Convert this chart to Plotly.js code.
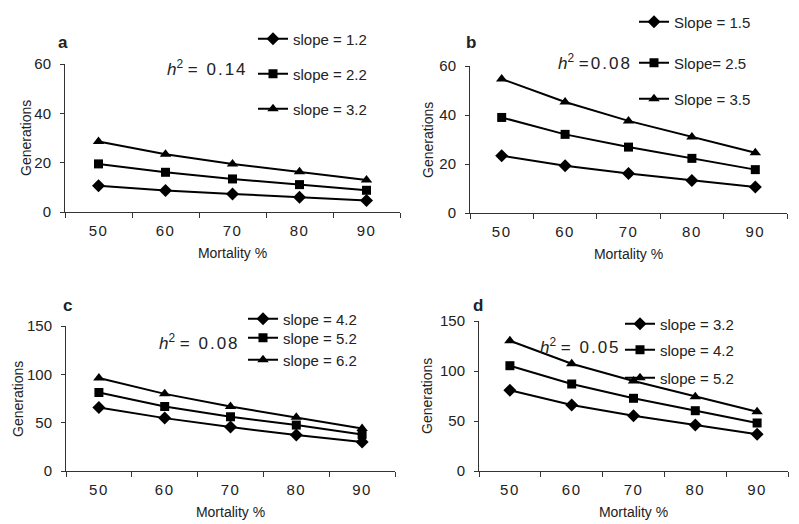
<!DOCTYPE html>
<html>
<head>
<meta charset="utf-8">
<script src="https://cdn.plot.ly/plotly-3.0.1.min.js"></script>
<style>
  html, body { margin: 0; padding: 0; background: #fff; }
  #chart { width: 799px; height: 524px; }
  /* x tick labels in the source are slightly spaced out */
  .xtick text, .x2tick text, .x3tick text, .x4tick text { letter-spacing: 1.5px; }
</style>
</head>
<body>
<div id="chart"></div>
<script>
// Generations to resistance vs. mortality, four panels (a-d)
const mortality = [50, 60, 70, 80, 90];

// panel a (h2 = 0.14)
const aNames = ["slope = 1.2", "slope = 2.2", "slope = 3.2"];
const aSlope1 = [10.6, 8.7, 7.3, 6.0, 4.7];
const aSlope2 = [19.5, 16.1, 13.4, 11.1, 8.8];
const aSlope3 = [28.6, 23.4, 19.5, 16.3, 13.0];

// panel b (h2 = 0.08)
const bNames = ["Slope = 1.5", "Slope= 2.5", "Slope = 3.5"];
const bSlope1 = [23.4, 19.3, 16.1, 13.3, 10.6];
const bSlope2 = [39.0, 32.1, 26.9, 22.3, 17.7];
const bSlope3 = [54.7, 45.3, 37.6, 31.0, 24.6];

// panel c (h2 = 0.08)
const cNames = ["slope = 4.2", "slope = 5.2", "slope = 6.2"];
const cSlope1 = [65.7, 54.7, 45.4, 37.2, 29.9];
const cSlope2 = [81.2, 66.7, 56.1, 47.5, 37.8];
const cSlope3 = [96.3, 79.8, 66.7, 55.7, 44.0];

// panel d (h2 = 0.05)
const dNames = ["slope = 3.2", "slope = 4.2", "slope = 5.2"];
const dSlope1 = [80.7, 66.0, 55.3, 46.0, 36.7];
const dSlope2 = [105.3, 87.0, 72.7, 60.3, 48.0];
const dSlope3 = [130.3, 107.3, 90.0, 74.3, 59.3];

const symbols = ["diamond", "square", "triangle-up"];
const W = 799, H = 524;
const px = v => v / W;
const py = v => 1 - v / H;

const FONT = "Liberation Sans, Arial, sans-serif";
const INK = "#222";

// one legend per trace so each entry can sit where the source puts it
let legendCount = 0;
const legends = {};

function panel(names, series, ax, legendX, legendYs) {
  return series.map((ys, i) => {
    legendCount++;
    const id = legendCount === 1 ? "legend" : "legend" + legendCount;
    legends[id] = {
      x: px(legendX), y: py(legendYs[i]), xanchor: "left", yanchor: "middle",
      bgcolor: "rgba(0,0,0,0)",
      font: { family: FONT, size: 15, color: INK },
      itemwidth: 30
    };
    return {
      x: mortality,
      y: ys,
      type: "scatter",
      mode: "lines+markers",
      name: names[i],
      xaxis: "x" + ax,
      yaxis: "y" + ax,
      legend: id,
      line: { color: "#000", width: 2 },
      marker: { symbol: symbols[i], size: i === 1 ? 9 : 10, color: "#000" },
      cliponaxis: false
    };
  });
}

const traces = [
  ...panel(aNames, [aSlope1, aSlope2, aSlope3], "", 253, [39, 74, 109]),
  ...panel(bNames, [bSlope1, bSlope2, bSlope3], "2", 634, [22, 63, 99]),
  ...panel(cNames, [cSlope1, cSlope2, cSlope3], "3", 243, [319, 338, 360]),
  ...panel(dNames, [dSlope1, dSlope2, dSlope3], "4", 620, [324, 350, 378])
];

function xAxis(x0, x1, anchor) {
  return {
    domain: [px(x0), px(x1)],
    anchor: anchor,
    type: "category",
    range: [-0.5, 4.5],
    tickson: "boundaries",
    ticks: "outside",
    ticklen: 5,
    tickcolor: "#333",
    ticklabelstandoff: 5,
    showline: true,
    linecolor: "#333",
    linewidth: 1,
    showgrid: false,
    zeroline: false,
    tickfont: { family: FONT, size: 15, color: INK },
    title: { text: "Mortality %", font: { family: FONT, size: 14, color: INK }, standoff: 10 },
    fixedrange: true
  };
}

function yAxis(y0, y1, anchor, ymax, dtick) {
  return {
    domain: [py(y1), py(y0)],
    anchor: anchor,
    range: [0, ymax],
    dtick: dtick,
    ticks: "outside",
    ticklen: 4,
    tickcolor: "#333",
    ticklabelstandoff: 6,
    showline: true,
    linecolor: "#333",
    linewidth: 1,
    showgrid: false,
    zeroline: false,
    tickfont: { family: FONT, size: 15, color: INK },
    fixedrange: true
  };
}

function label(x, y, text, size, extra) {
  return Object.assign({
    xref: "paper", yref: "paper",
    x: px(x), y: py(y),
    xanchor: "center", yanchor: "middle",
    text: text,
    showarrow: false,
    font: { family: FONT, size: size, color: INK }
  }, extra || {});
}

const h2 = v => "<i>h</i><sup>2</sup> <span style=\"letter-spacing:2px\">" + v + "</span>";

const layout = Object.assign({
  width: W,
  height: H,
  margin: { l: 0, r: 0, t: 0, b: 0 },
  paper_bgcolor: "#fff",
  plot_bgcolor: "#fff",
  showlegend: true,
  xaxis: xAxis(65, 400, "y"),
  yaxis: yAxis(64, 212, "x", 60, 20),
  xaxis2: xAxis(470, 787, "y2"),
  yaxis2: yAxis(66, 213, "x2", 60, 20),
  xaxis3: xAxis(66, 395, "y3"),
  yaxis3: yAxis(326, 471, "x3", 150, 50),
  xaxis4: xAxis(479, 788, "y4"),
  yaxis4: yAxis(321, 471, "x4", 150, 50),
  annotations: [
    label(63, 43, "<b>a</b>", 17),
    label(471, 43, "<b>b</b>", 17),
    label(67, 305, "<b>c</b>", 17),
    label(478, 305, "<b>d</b>", 17),
    label(207, 68, h2("= 0.14"), 17),
    label(595, 62, h2("=0.08"), 17),
    label(199, 342, h2("= 0.08"), 17),
    label(580, 346, h2("= 0.05"), 17),
    label(26, 138, "Generations", 14, { textangle: -90 }),
    label(428, 140, "Generations", 14, { textangle: -90 }),
    label(18, 399, "Generations", 14, { textangle: -90 }),
    label(427, 396, "Generations", 14, { textangle: -90 })
  ]
}, legends);

Plotly.newPlot("chart", traces, layout, { staticPlot: true, displayModeBar: false });
</script>
</body>
</html>
